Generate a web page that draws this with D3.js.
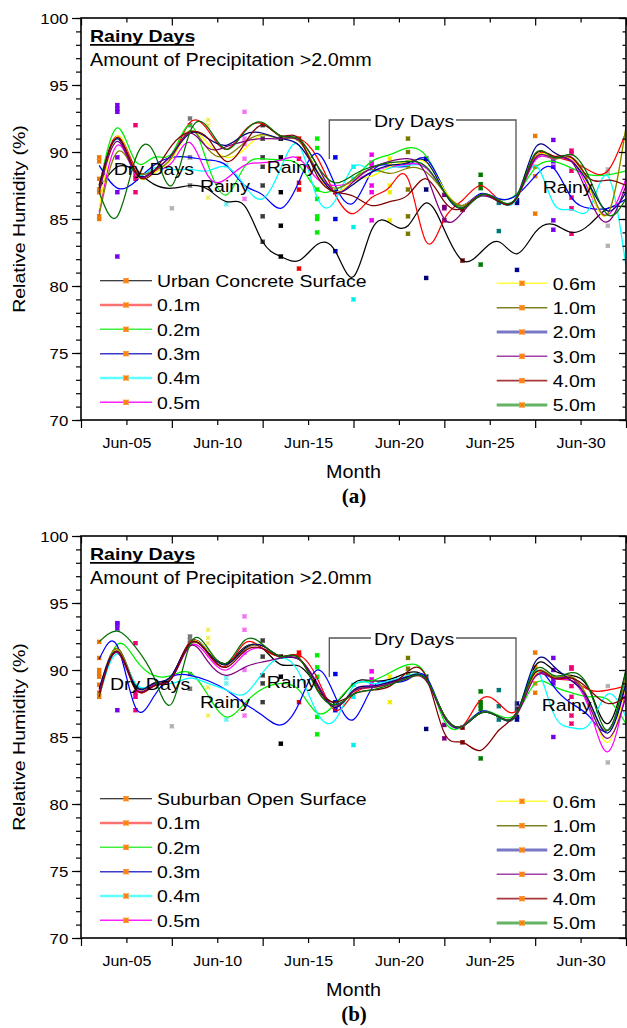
<!DOCTYPE html>
<html><head><meta charset="utf-8">
<script src="https://cdn.jsdelivr.net/npm/d3@7"></script>
<style>body{margin:0;background:#fff}</style>
</head><body>
<svg id="c" width="627" height="1028" xmlns="http://www.w3.org/2000/svg"></svg>
<script>
// ---------- DATA ----------
const curveDays = [3.5,4.5,5.5,6.5,7.5,8.5,9.5,10.5,11.5,12.5,13.5,14.5,15.5,16.5,17.5,18.5,19.5,20.5,21.5,22.5,23.5,24.5,25.5,26.5,27.5,28.5,29.5,30.5,31.5,32.5];
const xTickDays = [5,10,15,20,25,30];
const xTickLabels = ["Jun-05","Jun-10","Jun-15","Jun-20","Jun-25","Jun-30"];
const yTickValues = [70,75,80,85,90,95,100];
const seriesLabelsA = ["Urban Concrete Surface","0.1m","0.2m","0.3m","0.4m","0.5m","0.6m","1.0m","2.0m","3.0m","4.0m","5.0m"];
const seriesLabelsB = ["Suburban Open Surface","0.1m","0.2m","0.3m","0.4m","0.5m","0.6m","1.0m","2.0m","3.0m","4.0m","5.0m"];

// Panel (a) – Urban concrete surface
const surfA = [87.3,88.9,88.6,87.6,87.3,87.5,87.2,86.3,86.0,83.3,82.2,81.9,83.1,82.6,80.7,84.2,84.7,84.5,86.2,84.2,81.9,82.5,83.3,82.4,84.0,84.6,84.0,84.6,85.8,85.9];
const a01 = [87.5,91.2,88.8,88.6,89.6,92.2,91.6,90.2,91.6,92.1,91.2,91.0,89.6,86.8,85.4,86.6,87.4,88.0,83.3,85.0,86.4,87.5,86.4,86.6,89.6,89.7,89.3,88.6,88.6,91.5];
const a02 = [87.4,91.8,89.3,89.6,89.9,92.0,89.0,86.8,88.9,89.5,89.4,89.0,87.2,87.2,88.0,89.3,89.8,90.3,89.7,87.2,85.9,86.8,86.5,86.9,88.8,89.3,88.8,88.3,88.3,88.6];
const a03 = [89.0,87.3,87.8,89.0,89.6,89.6,89.4,89.0,87.5,86.8,85.8,87.8,89.9,87.5,86.2,88.5,89.0,89.0,89.5,87.2,86.0,86.9,86.5,86.8,88.2,88.8,86.6,85.8,85.8,86.5];
const a04 = [87.0,91.0,88.5,88.8,88.7,88.7,88.6,88.9,87.5,86.5,88.8,90.5,86.6,86.4,88.9,88.6,88.8,89.0,88.8,87.0,86.0,86.7,86.3,86.5,89.0,86.2,85.7,85.8,88.2,81.5];
const a05 = [85.5,90.5,88.3,88.5,89.2,90.7,88.2,88.0,89.0,89.2,89.4,89.5,88.0,87.5,87.8,88.5,88.9,89.1,88.8,87.0,86.0,86.8,86.4,86.6,89.4,89.5,89.4,87.0,85.3,88.0];
const a06 = [85.8,91.2,88.4,88.4,89.5,91.5,90.6,89.6,90.2,91.3,91.0,90.9,88.5,87.0,87.8,88.2,88.9,89.3,89.2,87.2,86.0,86.8,86.4,86.6,89.6,89.6,89.5,87.2,85.4,91.8];
const a10 = [85.3,90.0,88.6,88.6,89.6,91.6,90.2,89.7,90.7,91.3,91.0,90.8,88.6,87.3,88.0,88.7,88.4,88.8,88.5,87.0,86.0,86.8,86.4,86.6,89.6,89.5,89.6,87.5,85.4,91.9];
const a20 = [87.5,91.0,88.5,88.6,89.8,91.4,91.0,90.5,91.3,91.4,91.0,90.5,88.5,87.0,87.6,88.5,89.0,89.2,89.3,87.0,85.8,86.8,86.3,86.7,90.3,90.0,89.3,87.5,85.6,87.0];
const a30 = [87.0,90.8,88.4,88.6,89.8,91.4,90.3,90.4,90.8,91.0,91.0,90.9,89.0,87.0,87.8,88.8,89.3,89.5,88.3,85.0,85.5,86.7,86.3,86.6,89.5,89.6,89.3,86.5,84.8,87.5];
const a40 = [87.3,91.1,88.5,88.5,90.5,91.5,91.0,89.3,90.6,92.0,91.2,91.0,88.2,87.0,86.7,86.0,86.3,86.8,88.0,86.3,85.8,86.8,86.3,86.6,89.8,89.7,89.6,88.0,87.9,87.5];
const a50 = [87.0,85.2,89.5,90.0,87.5,91.5,91.8,90.2,91.5,92.2,91.2,91.0,89.0,87.7,88.3,88.9,89.2,89.3,88.9,87.0,85.8,86.8,86.4,86.7,89.9,89.6,89.8,88.0,85.3,86.5];

// Panel (b) – Suburban open surface
const surfB = [88.3,91.6,88.9,89.0,89.6,92.1,91.4,90.5,91.7,91.6,90.4,90.3,88.8,87.6,89.0,89.2,89.3,89.8,89.3,86.6,85.8,86.8,86.5,86.7,90.3,90.0,89.6,88.5,86.0,90.0];
const b01 = [88.0,91.5,88.6,88.8,89.5,92.1,91.2,90.3,92.0,91.6,91.0,91.1,89.4,87.0,88.2,88.7,89.0,89.5,89.2,86.6,85.8,87.8,87.5,87.0,89.6,89.4,89.2,88.5,88.5,88.8];
const b02 = [88.2,91.9,90.8,89.6,89.6,89.8,88.1,86.5,87.5,88.6,89.0,88.5,86.8,87.5,88.9,89.2,89.8,90.4,89.6,86.2,85.8,86.9,86.6,86.8,89.0,88.8,88.3,88.0,87.8,86.0];
const b03 = [90.8,91.8,87.2,88.0,89.5,89.6,89.2,88.5,87.5,86.6,85.9,87.5,90.0,88.0,86.3,88.6,89.1,89.3,89.5,86.5,85.8,86.9,86.5,86.8,89.8,88.8,87.5,86.5,85.5,89.0];
const b04 = [88.0,91.2,89.0,88.9,89.0,89.4,89.0,88.5,88.2,89.8,90.9,89.8,86.8,86.3,88.8,89.0,89.2,89.6,89.3,86.5,85.8,86.8,86.5,86.8,90.0,86.8,85.7,86.0,88.2,86.5];
const b05 = [88.4,91.4,88.7,88.8,89.4,91.8,91.0,90.0,91.2,91.6,91.0,90.8,89.0,87.2,88.5,88.8,89.1,89.5,89.2,86.5,85.8,86.8,86.5,86.7,89.5,89.4,89.2,87.0,83.9,88.5];
const b06 = [88.0,91.5,88.8,89.0,89.5,92.0,91.4,90.4,91.6,91.8,91.0,90.8,88.9,87.2,88.5,88.7,89.0,89.4,89.2,86.5,85.8,86.8,86.5,86.7,89.7,89.5,89.5,87.5,84.6,89.0];
const b10 = [88.5,91.6,88.8,89.0,89.5,91.9,91.3,90.4,91.5,91.8,91.0,90.8,88.9,87.2,88.4,88.7,89.0,89.5,89.3,86.6,85.8,86.8,86.5,86.7,89.8,89.5,89.5,87.6,85.5,89.5];
const b20 = [88.6,91.4,88.8,89.0,89.6,92.0,91.3,90.4,91.6,91.8,91.0,90.8,88.9,87.2,88.5,88.8,89.1,89.5,89.3,86.5,85.8,86.8,86.5,86.8,90.6,90.3,89.2,87.6,85.3,89.0];
const b30 = [88.3,91.3,88.6,88.9,89.4,91.8,90.6,89.6,90.2,90.6,90.9,90.8,89.0,87.3,88.4,88.7,89.0,89.4,89.2,86.5,85.8,86.8,86.5,86.7,89.5,89.4,89.4,87.3,84.9,88.0];
const b40 = [88.0,91.4,88.6,88.8,89.4,92.0,91.2,90.2,91.4,91.6,91.0,90.9,88.6,87.6,88.2,88.5,88.8,89.9,89.5,85.3,84.6,84.0,85.5,86.9,89.8,89.4,89.4,88.5,87.5,88.0];
const b50 = [92.1,92.9,91.7,89.5,87.5,91.9,91.6,90.5,92.2,91.9,91.0,90.9,88.5,87.4,88.2,88.5,88.9,89.4,89.3,86.6,85.8,86.8,86.5,86.8,90.0,89.6,89.8,88.5,85.5,90.0];

// Scatter markers: readings per date
const markerDays = [3.5,4.5,5.5,7.5,8.5,9.5,10.5,11.5,12.5,13.5,14.5,15.5,16.5,17.5,18.5,19.5,20.5,21.5,22.5,23.5,24.5,25.5,26.5,27.5,28.5,29.5,31.5];
const markersA = [
 [89.6,89.3,88.0,87.2,87.0,85.2,85.0],[93.5,93.2,93.0,89.6,87.0,82.2],[92.0,88.3,88.0,87.0],[85.8],
 [92.5,92.0,89.6,87.5],[92.4,92.0,89.3,86.6],[89.0,86.1],[93.0,91.0,90.6,89.5,86.5],
 [92.0,91.0,89.6,88.9,87.5,85.2,83.3],[91.0,89.6,87.0,84.5,82.2],[91.0,89.5,87.7,87.2,81.3],
 [91.0,90.3,87.2,86.5,85.2,85.0,84.0],[89.6,87.0,85.0,82.6],[88.9,88.0,84.4,79.0],
 [89.8,89.2,89.0,87.5,87.0,84.9],[89.5,89.0,87.5,87.0,84.9],[91.0,90.0,89.2,89.0,87.2,85.2,83.9],
 [89.5,87.2,80.6],[86.8,85.9,85.8,84.9],[85.7,81.9],[88.3,87.6,87.3,81.6],[86.2,84.1],
 [86.4,86.2,81.2],[91.2,88.9,88.2,85.4],[90.9,89.3,88.9,84.9,84.2],[90.1,89.9,88.6,86.6,85.8,83.9],
 [88.7,88.5,84.5,83.0]
];
const markersB = [
 [92.1,90.9,90.0,89.7,89.5,88.9,88.3,88.0],[93.5,93.4,93.1,87.0],[92.0,88.3,88.0,87.0],[85.8],
 [92.5,92.2,92.0,89.7,88.6],[93.0,92.4,92.0,88.7,86.6],[89.4,89.0,86.3],[94.0,93.0,91.3,90.0,86.6],
 [92.2,91.0,89.6,89.0,87.6],[91.0,89.5,84.5],[91.3,91.1,87.6],[91.1,90.2,89.5,86.5,85.2],
 [89.7,87.6,87.0],[88.9,88.0,84.4],[89.9,89.3,89.0],[89.5,89.0,87.6],[90.9,90.1,89.6],
 [89.5,85.6],[85.9,84.9],[85.7,84.6],[88.4,87.6,87.4,87.1,83.4],[88.5,87.3,86.3],
 [87.5,87.1,86.5,86.3],[91.3,90.2,89.0,88.3],[90.9,90.0,89.3,89.0,85.0],[90.2,90.1,88.8,88.0,86.6,86.0],
 [88.8,83.1]
];

// ---------- STYLES ----------
const seriesColors = ["#000000","#FF0000","#00EE00","#0000FF","#00FFFF","#FF00FF","#FFFF00","#808000","#000080","#800080","#800000","#006F00"];
const legendColors = ["#000000","#FF7070","#40F040","#3C3CC8","#60FFFF","#FF20FF","#FFFF40","#808020","#7878C4","#A040A8","#A83838","#64B464"];
const legendWidths = [1.1,2.6,1.5,1.6,2.6,1.5,1.5,1.5,2.8,1.5,1.8,2.8];
const markerColors = ["#FF8000","#8000FF","#FF0080","#C0C0C0","#808080","#FFFF80","#80FFFF","#FF80FF","#404040","#000000","#FF0000","#00FF00","#0000FF","#00FFFF","#FF00FF","#FFFF00","#808000","#000080","#800080","#800000","#008000","#008080","#0000A0","#FF8000","#8000FF","#FF0080","#C0C0C0"];

const SANS = "'Liberation Sans', Arial, Helvetica, sans-serif";
const SERIF = "'Liberation Serif', 'Times New Roman', serif";
const SX = 1.13;

const svg = d3.select("#c");
const X = d3.scaleLinear().domain([2.5, 32.5]).range([81, 626]);

function txt(g, x, y, s, o = {}) {
  const size = o.size || 17.3, sx = o.sx || SX;
  return g.append("text")
    .attr("transform", `translate(${x},${y})` + (o.rotate ? ` rotate(${o.rotate})` : "") + ` scale(${sx},1)`)
    .attr("font-family", o.family || SANS)
    .attr("font-size", size)
    .attr("font-weight", o.weight || "normal")
    .attr("text-anchor", o.anchor || "start")
    .attr("fill", "#000")
    .text(s);
}

function drawPanel(cfg) {
  const off = cfg.off;
  const top = 18 + off, bottom = 420 + off;
  const Y = d3.scaleLinear().domain([70, 100]).range([bottom, top]);
  const g = svg.append("g");

  svg.append("clipPath").attr("id", "clip" + cfg.id)
    .append("rect").attr("x", 81).attr("y", top).attr("width", 545).attr("height", bottom - top);

  const cg = g.append("g").attr("clip-path", `url(#clip${cfg.id})`);
  const line = d3.line().x((d, i) => X(curveDays[i])).y(d => Y(d)).curve(d3.curveNatural);

  // scatter markers (per date)
  const mg = cg.append("g");
  cfg.markers.forEach((vals, j) => {
    vals.forEach(v => {
      const cx = X(markerDays[j]), cy = Y(v);
      mg.append("rect").attr("x", cx - 2.2).attr("y", cy - 2.2).attr("width", 4.4).attr("height", 4.4)
        .attr("fill", markerColors[j]);
      mg.append("path").attr("d", `M${cx-2},${cy-2}L${cx+2},${cy+2}M${cx+2},${cy-2}L${cx-2},${cy+2}`)
        .attr("stroke", d3.color(markerColors[j]).darker(0.6)).attr("stroke-width", 0.7);
    });
  });

  // curves
  cfg.curves.forEach((s, k) => {
    cg.append("path").attr("d", line(s)).attr("fill", "none")
      .attr("stroke", seriesColors[k]).attr("stroke-width", 1.25);
  });

  // axes
  const ax = g.append("g").attr("stroke-width", 1.2);
  const yMinor = d3.range(70, 101, 1);
  const xLong = [2.5, 7.5, 12.5, 17.5, 22.5, 27.5, 32.5];
  // left
  const left = ax.append("g").attr("transform", "translate(81,0)");
  left.append("g").call(d3.axisLeft(Y).tickValues(yMinor).tickSize(5).tickFormat(""));
  const lm = left.append("g").call(d3.axisLeft(Y).tickValues(yTickValues).tickSize(9).tickFormat(d3.format("d")));
  lm.selectAll("text").attr("x", null).attr("dy", null)
    .attr("transform", "translate(-12.7,5.3) scale(1.12,1)")
    .attr("font-family", SANS).attr("font-size", 15).attr("fill", "#000");
  // right (inward)
  const right = ax.append("g").attr("transform", "translate(626,0)");
  right.append("g").call(d3.axisRight(Y).tickValues(yMinor).tickSize(-3.5).tickFormat(""));
  right.append("g").call(d3.axisRight(Y).tickValues(yTickValues).tickSize(-7).tickFormat(""));
  // bottom
  const bot = ax.append("g").attr("transform", `translate(0,${bottom})`);
  bot.append("g").call(d3.axisBottom(X).tickValues(xLong).tickSize(8).tickFormat(""));
  const bl = bot.append("g").call(d3.axisBottom(X).tickValues(xTickDays).tickSize(5)
    .tickFormat((d, i) => xTickLabels[i]));
  bl.selectAll("text").attr("y", null).attr("dy", null)
    .attr("transform", "translate(0,28.3) scale(1.12,1)")
    .attr("font-family", SANS).attr("font-size", 14.3).attr("fill", "#000");
  // top (inward)
  const tp = ax.append("g").attr("transform", `translate(0,${top})`);
  tp.append("g").call(d3.axisTop(X).tickValues(xLong).tickSize(-7.5).tickFormat(""));
  tp.append("g").call(d3.axisTop(X).tickValues(xTickDays).tickSize(-4.5).tickFormat(""));
  ax.selectAll(".domain").remove();
  ax.selectAll(".tick line").attr("stroke", "#000");

  // frame
  g.append("rect").attr("x", 81).attr("y", top).attr("width", 545).attr("height", bottom - top)
    .attr("fill", "none").attr("stroke", "#000").attr("stroke-width", 1.6);

  // axis titles
  txt(g, 25, (top + bottom) / 2, "Relative Humidity (%)", { rotate: -90, anchor: "middle", size: 17.3 });
  txt(g, 353.5, 478 + off, "Month", { anchor: "middle", size: 17.5 });
  txt(g, 354, 503 + off, cfg.tag, { anchor: "middle", size: 21, weight: "bold", family: SERIF, sx: 1 });

  // header
  const t1 = txt(g, 90, 42 + off, "Rainy Days", { weight: "bold", size: 17.3 });
  g.append("line").attr("x1", 90).attr("x2", 194).attr("y1", 44.8 + off).attr("y2", 44.8 + off)
    .attr("stroke", "#000").attr("stroke-width", 1.8);
  txt(g, 90, 66 + off, "Amount of Precipitation >2.0mm", { size: 17.5 });

  // annotations
  const an = cfg.ann;
  txt(g, an.dry1[0], an.dry1[1] + off, "Dry Days");
  txt(g, an.rainy1[0], an.rainy1[1] + off, "Rainy");
  txt(g, an.rainy2[0], an.rainy2[1] + off, "Rainy");
  txt(g, an.rainy3[0], an.rainy3[1] + off, "Rainy");
  txt(g, 374, 126.7 + off, "Dry Days");
  g.append("path").attr("d", `M329.3,${159 + off}V${120 + off}H371 M456,${120 + off}H516V${195 + off}`)
    .attr("fill", "none").attr("stroke", "#555").attr("stroke-width", 1.3);

  // legends
  const rowsL = [280.7, 305, 329.3, 353.7, 378, 402.3];
  const rowsR = [283.3, 307.7, 332, 356.3, 380.7, 405];
  const lg = g.append("g");
  cfg.labels.forEach((lab, k) => {
    const right = k >= 6;
    const ry = (right ? rowsR[k - 6] : rowsL[k]) + off;
    const x0 = right ? 496.7 : 100, x1 = right ? 547.3 : 152, mx = right ? 522 : 126, tx = right ? 552.7 : 157;
    lg.append("line").attr("x1", x0).attr("x2", x1).attr("y1", ry).attr("y2", ry)
      .attr("stroke", legendColors[k]).attr("stroke-width", legendWidths[k]);
    lg.append("rect").attr("x", mx - 2.6).attr("y", ry - 2.6).attr("width", 5.2).attr("height", 5.2)
      .attr("fill", "#FF9020");
    lg.append("path").attr("d", `M${mx-2.6},${ry-2.6}L${mx+2.6},${ry+2.6}M${mx+2.6},${ry-2.6}L${mx-2.6},${ry+2.6}`)
      .attr("stroke", "#FF7000").attr("stroke-width", 0.8);
    txt(lg, tx, ry + 6.3, lab, { size: 17.2 });
  });
}

drawPanel({
  id: "a", off: 0, tag: "(a)",
  curves: [surfA, a01, a02, a03, a04, a05, a06, a10, a20, a30, a40, a50],
  markers: markersA, labels: seriesLabelsA,
  ann: { dry1: [113.7, 175], rainy1: [200, 191.7], rainy2: [266.7, 172.5], rainy3: [542.7, 192.7] }
});
drawPanel({
  id: "b", off: 518, tag: "(b)",
  curves: [surfB, b01, b02, b03, b04, b05, b06, b10, b20, b30, b40, b50],
  markers: markersB, labels: seriesLabelsB,
  ann: { dry1: [110, 172], rainy1: [200, 190.3], rainy2: [266.7, 170], rainy3: [541.7, 193] }
});
</script>
</body></html>
